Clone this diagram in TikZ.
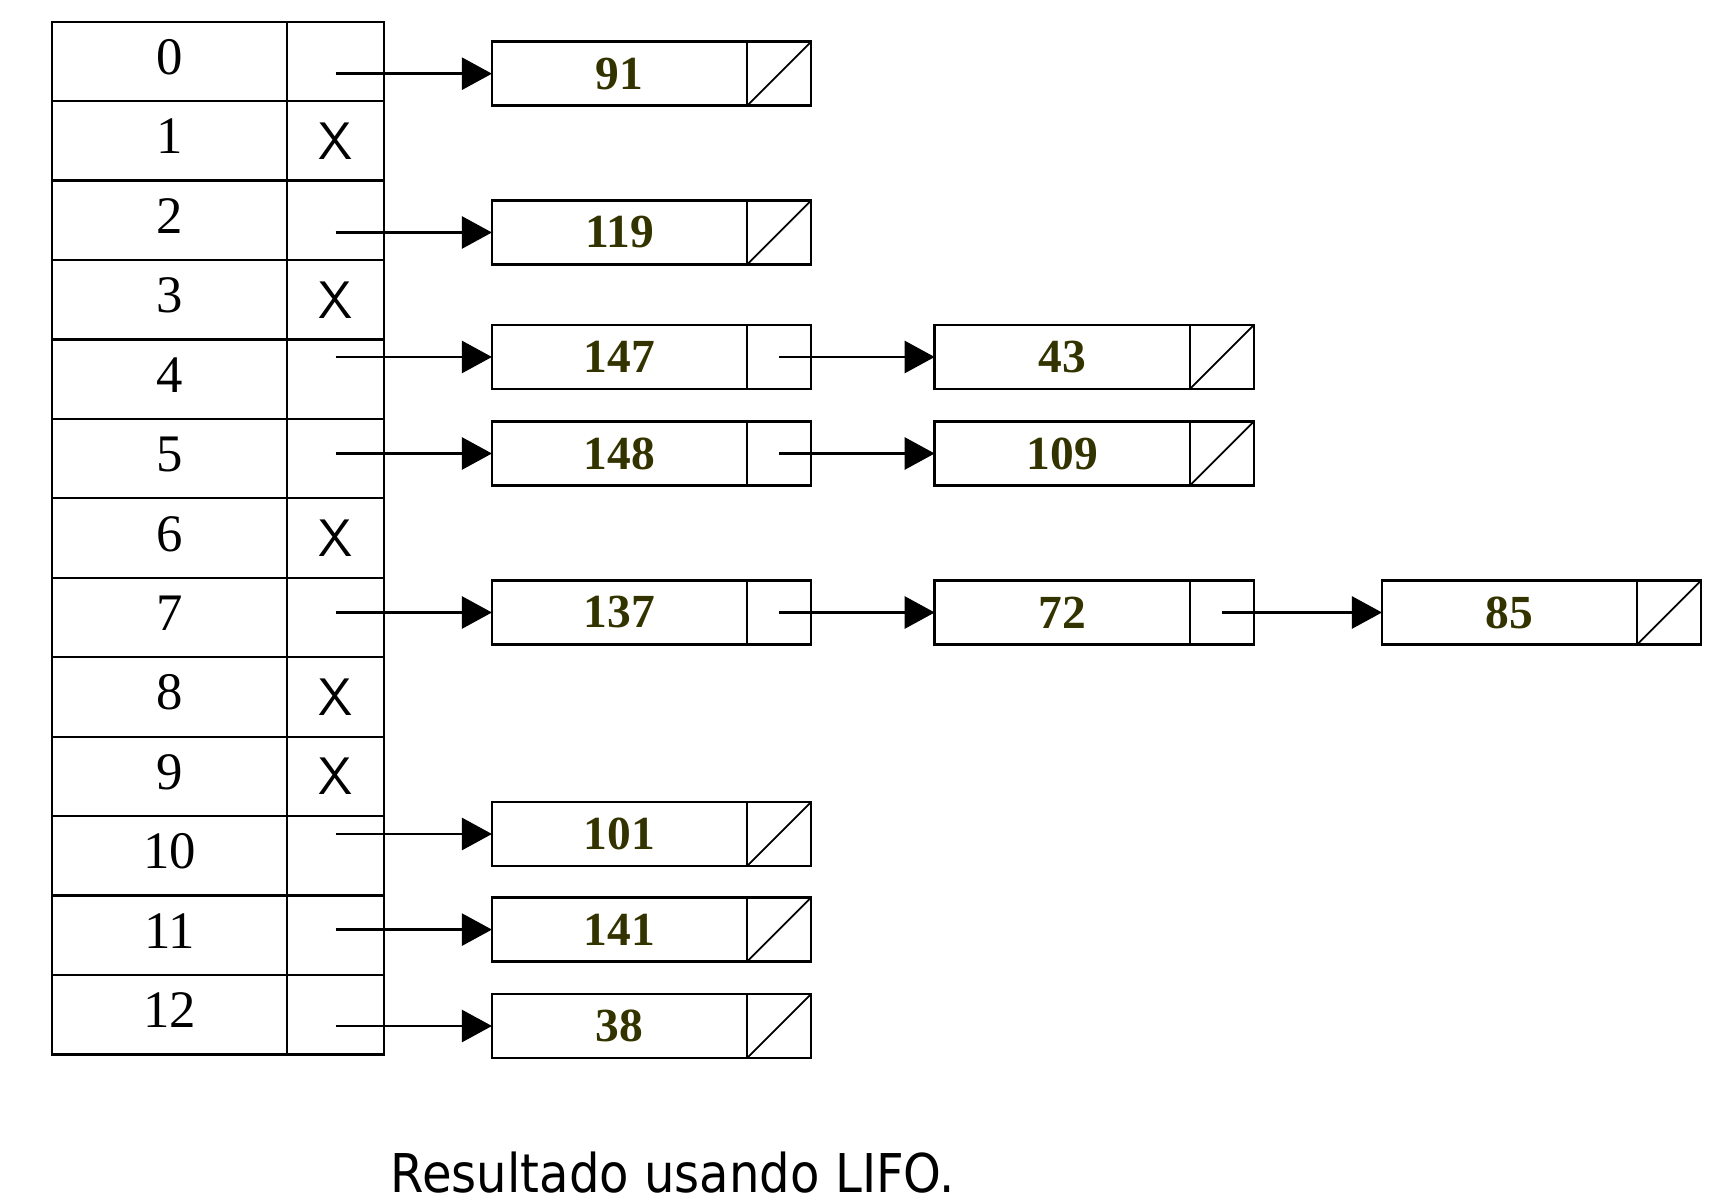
\documentclass[tikz,border=0pt]{standalone}
\usepackage{fontspec}
\setmainfont{Liberation Serif}
\newfontfamily\capfont[FakeStretch=0.9]{DejaVu Sans}
\usetikzlibrary{arrows.meta,positioning}
\definecolor{ink}{HTML}{000000}
\definecolor{numolive}{HTML}{333300}

\begin{document}
\begin{tikzpicture}[
  x=0.01cm,y=-0.01cm,
  font=\fontsize{15}{18}\selectfont,
  idx/.style={draw=ink,line width=0.65pt,minimum width=2.35cm,minimum height=0.794cm,
              inner sep=0pt,outer sep=0pt,text=ink,text height=0.36cm,text depth=0.1cm},
  ptr/.style={draw=ink,line width=0.65pt,minimum width=0.97cm,minimum height=0.794cm,
              inner sep=0pt,outer sep=0pt,font=\sffamily\fontsize{15}{18}\selectfont},
  val/.style={draw=ink,line width=0.75pt,minimum width=2.55cm,minimum height=0.64cm,
              inner sep=0pt,outer sep=0pt,text=numolive,font=\bfseries\fontsize{13.5}{16}\selectfont},
  nxt/.style={draw=ink,line width=0.75pt,minimum width=0.64cm,minimum height=0.64cm,
              inner sep=0pt,outer sep=0pt},
  link/.style={-{Triangle[length=3mm,width=3.2mm]},ink,line width=0.75pt},
  null/.style={ink,line width=0.5pt},
]
  \useasboundingbox (0,0) rectangle (1716,1204);

  % hash table
  \node[idx] (t0) at (169.5,61.4) {0};
  \node[ptr,right=0pt of t0] (t0p) {};
  \node[idx,below=0pt of t0] (t1) {1};
  \node[ptr,right=0pt of t1] (t1p) {X};
  \node[idx,below=0pt of t1] (t2) {2};
  \node[ptr,right=0pt of t2] (t2p) {};
  \node[idx,below=0pt of t2] (t3) {3};
  \node[ptr,right=0pt of t3] (t3p) {X};
  \node[idx,below=0pt of t3] (t4) {4};
  \node[ptr,right=0pt of t4] (t4p) {};
  \node[idx,below=0pt of t4] (t5) {5};
  \node[ptr,right=0pt of t5] (t5p) {};
  \node[idx,below=0pt of t5] (t6) {6};
  \node[ptr,right=0pt of t6] (t6p) {X};
  \node[idx,below=0pt of t6] (t7) {7};
  \node[ptr,right=0pt of t7] (t7p) {};
  \node[idx,below=0pt of t7] (t8) {8};
  \node[ptr,right=0pt of t8] (t8p) {X};
  \node[idx,below=0pt of t8] (t9) {9};
  \node[ptr,right=0pt of t9] (t9p) {X};
  \node[idx,below=0pt of t9] (t10) {10};
  \node[ptr,right=0pt of t10] (t10p) {};
  \node[idx,below=0pt of t10] (t11) {11};
  \node[ptr,right=0pt of t11] (t11p) {};
  \node[idx,below=0pt of t11] (t12) {12};
  \node[ptr,right=0pt of t12] (t12p) {};

  % list nodes
  \node[val] (v91) at (619.5,73.7) {91};
  \node[nxt,right=0pt of v91] (v91p) {};
  \node[val] (v119) at (619.5,232.5) {119};
  \node[nxt,right=0pt of v119] (v119p) {};
  \node[val] (v147) at (619.5,357) {147};
  \node[nxt,right=0pt of v147] (v147p) {};
  \node[val,right=1.235cm of v147p] (v43) {43};
  \node[nxt,right=0pt of v43] (v43p) {};
  \node[val] (v148) at (619.5,453.5) {148};
  \node[nxt,right=0pt of v148] (v148p) {};
  \node[val,right=1.235cm of v148p] (v109) {109};
  \node[nxt,right=0pt of v109] (v109p) {};
  \node[val] (v137) at (619.5,612.5) {137};
  \node[nxt,right=0pt of v137] (v137p) {};
  \node[val,right=1.235cm of v137p] (v72) {72};
  \node[nxt,right=0pt of v72] (v72p) {};
  \node[val,right=1.28cm of v72p] (v85) {85};
  \node[nxt,right=0pt of v85] (v85p) {};
  \node[val] (v101) at (619.5,834) {101};
  \node[nxt,right=0pt of v101] (v101p) {};
  \node[val] (v141) at (619.5,929.6) {141};
  \node[nxt,right=0pt of v141] (v141p) {};
  \node[val] (v38) at (619.5,1026) {38};
  \node[nxt,right=0pt of v38] (v38p) {};

  % pointers
  \draw[link] (t0p.center |- v91.west) -- (v91.west);
  \draw[link] (t2p.center |- v119.west) -- (v119.west);
  \draw[link] (t4p.center |- v147.west) -- (v147.west);
  \draw[link] (t5p.center |- v148.west) -- (v148.west);
  \draw[link] (t7p.center |- v137.west) -- (v137.west);
  \draw[link] (t10p.center |- v101.west) -- (v101.west);
  \draw[link] (t11p.center |- v141.west) -- (v141.west);
  \draw[link] (t12p.center |- v38.west) -- (v38.west);
  \draw[link] (v147p.center) -- (v43.west);
  \draw[link] (v148p.center) -- (v109.west);
  \draw[link] (v137p.center) -- (v72.west);
  \draw[link] (v72p.center) -- (v85.west);

  % null ends
  \draw[null] (v91p.south west) -- (v91p.north east);
  \draw[null] (v119p.south west) -- (v119p.north east);
  \draw[null] (v43p.south west) -- (v43p.north east);
  \draw[null] (v109p.south west) -- (v109p.north east);
  \draw[null] (v85p.south west) -- (v85p.north east);
  \draw[null] (v101p.south west) -- (v101p.north east);
  \draw[null] (v141p.south west) -- (v141p.north east);
  \draw[null] (v38p.south west) -- (v38p.north east);

  \node[font=\capfont\fontsize{15.2}{18}\selectfont,anchor=base] (cap) at (673,1192) {Resultado usando LIFO.};
\end{tikzpicture}
\end{document}
